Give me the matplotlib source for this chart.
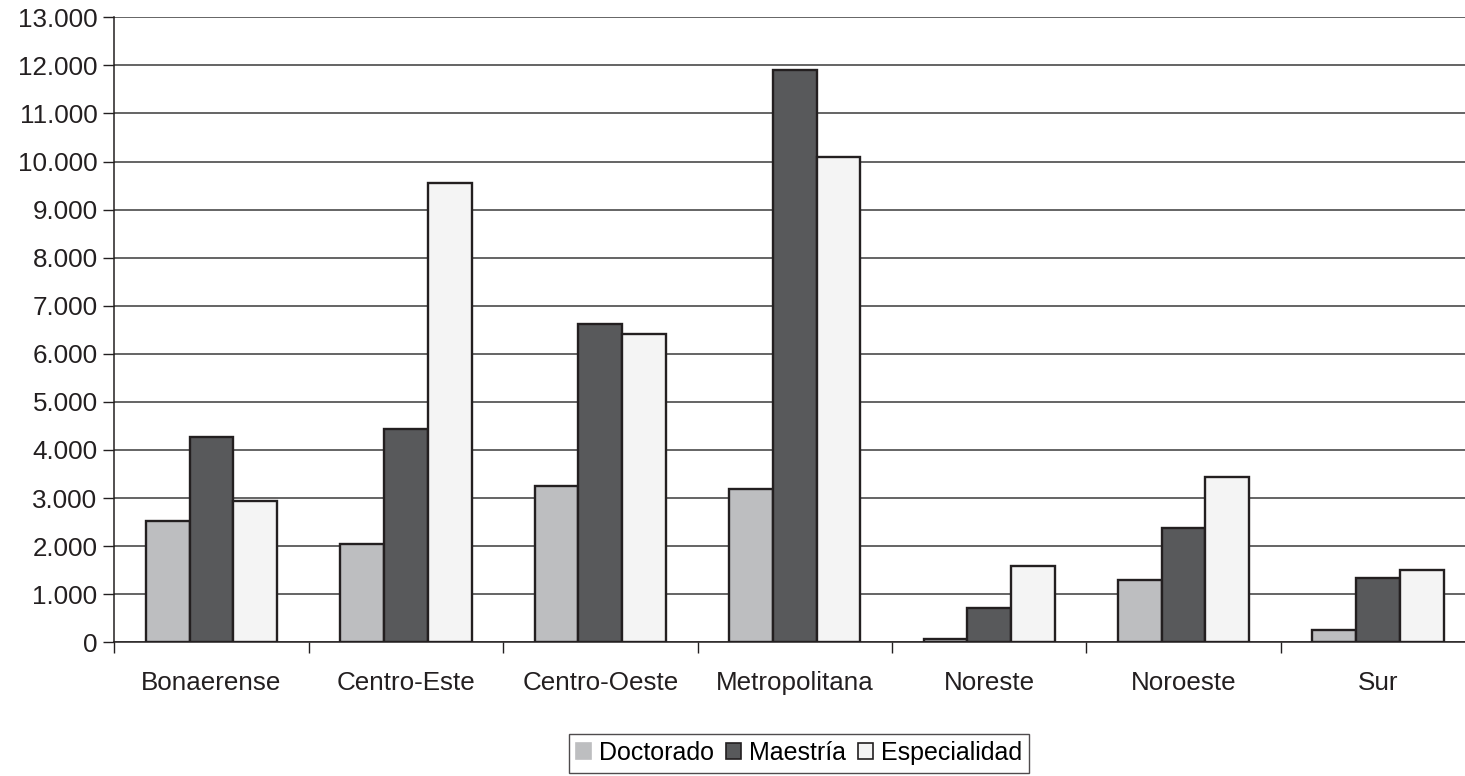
import matplotlib
matplotlib.use("Agg")
import matplotlib.pyplot as plt
import numpy as np
from matplotlib.ticker import FuncFormatter, FixedLocator

plt.rcParams['font.family'] = ['Liberation Sans', 'DejaVu Sans']

regiones = ["Bonaerense", "Centro-Este", "Centro-Oeste", "Metropolitana",
            "Noreste", "Noroeste", "Sur"]
doctorado = [2520, 2050, 3260, 3180, 75, 1300, 250]
maestria = [4275, 4440, 6620, 11900, 710, 2380, 1340]
especialidad = [2940, 9560, 6410, 10100, 1590, 3440, 1510]

series = [("Doctorado", doctorado, "#bdbec0"),
          ("Maestría", maestria, "#58595b"),
          ("Especialidad", especialidad, "#f4f4f4")]

fig = plt.figure(figsize=(14.65, 7.76), dpi=100)
ax = fig.add_axes([0.078, 0.1723, 0.929, 0.8054])

x = np.arange(len(regiones))
w = 0.225
for i, (nombre, vals, col) in enumerate(series):
    ax.bar(x + (i - 1) * w, vals, w, color=col, edgecolor="#231f20",
           linewidth=1.7, label=nombre, zorder=3)

ax.set_xlim(-0.5, len(regiones) - 0.5)
ax.set_ylim(0, 13000)
ax.set_yticks(np.arange(0, 13001, 1000))
ax.yaxis.set_major_formatter(FuncFormatter(lambda v, p: f"{int(v):,}".replace(",", ".")))
ax.yaxis.grid(True, color="#3a3a3a", linewidth=1.1, zorder=0)
ax.set_axisbelow(True)

ax.set_xticks(x)
ax.set_xticklabels(regiones)
ax.xaxis.set_minor_locator(FixedLocator(np.arange(-0.5, len(regiones), 1.0)))
ax.tick_params(axis="x", which="major", length=0, pad=21, labelsize=18.7, colors="#231f20")
ax.tick_params(axis="x", which="minor", length=8, width=1, direction="out", color="#231f20")
ax.tick_params(axis="y", length=8, width=1, direction="out", labelsize=18.7, pad=4,
               colors="#231f20")

for s in ["top", "right"]:
    ax.spines[s].set_visible(False)
ax.spines["left"].set_color("#231f20")
ax.spines["bottom"].set_color("#231f20")
ax.spines["left"].set_linewidth(1.1)
ax.spines["bottom"].set_linewidth(1.1)

leg = fig.legend(loc="center", bbox_to_anchor=(0.5455, 0.0295), ncol=3, frameon=True,
                 fontsize=18, handlelength=0.6, handleheight=0.6, handletextpad=0.3,
                 columnspacing=0.5, borderpad=0.3, fancybox=False, borderaxespad=0)
leg.get_frame().set_edgecolor("#231f20")
leg.get_frame().set_linewidth(1)
for h in leg.legend_handles:
    h.set_linewidth(1.2)
leg.legend_handles[0].set_edgecolor("#bdbec0")

fig.savefig("out.png", dpi=100)
